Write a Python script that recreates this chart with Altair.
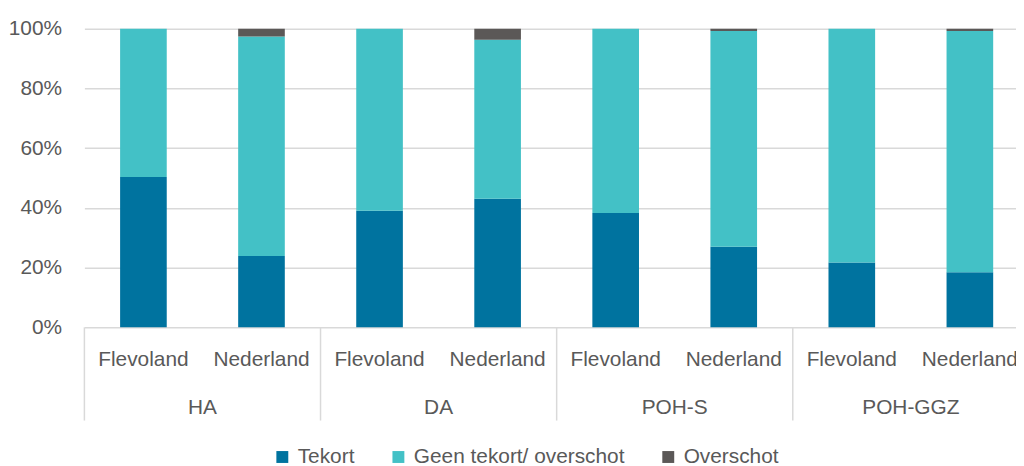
import altair as alt
import pandas as pd

groups = ["HA", "HA", "DA", "DA", "POH-S", "POH-S", "POH-GGZ", "POH-GGZ"]
regions = ["Flevoland", "Nederland"] * 4
tekort = [50.3, 23.9, 39.0, 43.0, 38.3, 27.0, 21.7, 18.4]
geen = [49.7, 73.5, 61.0, 53.3, 61.7, 72.2, 78.3, 80.8]
overschot = [0.0, 2.6, 0.0, 3.7, 0.0, 0.8, 0.0, 0.8]
series = ["Tekort", "Geen tekort/ overschot", "Overschot"]
colors = ["#00739F", "#43C1C6", "#5B5857"]
group_names = ["HA", "DA", "POH-S", "POH-GGZ"]

keys = [f"{g}|{r}" for g, r in zip(groups, regions)]
rows = []
for k, g, r, a, b, c in zip(keys, groups, regions, tekort, geen, overschot):
    for i, (s, v) in enumerate(zip(series, [a, b, c])):
        rows.append({"key": k, "group": g, "region": r, "series": s, "value": v / 100, "ord": i})
df = pd.DataFrame(rows)

grp_df = pd.DataFrame({"group": group_names, "key": [f"{g}|Flevoland" for g in group_names]})

TXT = "#595959"
GRID = "#D9D9D9"
FS = 21
STEP = 119
xscale = alt.Scale(domain=keys, range=[0, STEP * 8], paddingInner=0.605, paddingOuter=0.3025)

bars = alt.Chart(df).mark_bar().encode(
    x=alt.X("key:N", scale=xscale, sort=keys,
            axis=alt.Axis(title=None, labelExpr="split(datum.label, '|')[1]", domain=False,
                          ticks=False, tickSize=0, labelPadding=33, labelBaseline="middle",
                          labelAngle=0, labelFontSize=FS, labelColor=TXT, grid=False)),
    y=alt.Y("value:Q", stack="zero", scale=alt.Scale(domain=[0, 1], nice=False),
            axis=alt.Axis(title=None, format=".0%", values=[0, 0.2, 0.4, 0.6, 0.8, 1.0],
                          domain=False, ticks=False, tickSize=0, labelPadding=23,
                          labelFontSize=FS, labelColor=TXT, grid=True, gridColor=GRID,
                          gridWidth=1.5)),
    color=alt.Color("series:N", scale=alt.Scale(domain=series, range=colors),
                    legend=alt.Legend(title=None, orient="none", legendX=189, legendY=421,
                                      direction="horizontal", symbolType="square",
                                      symbolSize=144, symbolStrokeWidth=0,
                                      labelFontSize=FS, labelColor=TXT, labelLimit=0,
                                      columnPadding=33, labelOffset=5)),
    order=alt.Order("ord:Q"),
)

seps = alt.Chart(grp_df).mark_rule(color=GRID, strokeWidth=1.5, xOffset=-STEP / 2).encode(
    x=alt.X("key:N", scale=xscale, sort=keys),
    y=alt.value(301), y2=alt.value(395),
)

glabels = alt.Chart(grp_df).mark_text(dx=STEP / 2, fontSize=FS, color=TXT, baseline="middle").encode(
    x=alt.X("key:N", scale=xscale, sort=keys),
    y=alt.value(382),
    text="group:N",
)

chart = alt.layer(bars, seps, glabels).properties(
    width=939, height=301,
    autosize=alt.AutoSizeParams(type="none"),
    padding={"left": 77, "top": 19, "right": 0, "bottom": 138},
).configure(font="Liberation Sans").configure_view(stroke=None)

chart.save("out.html", embed_options={"renderer": "svg", "actions": False})
